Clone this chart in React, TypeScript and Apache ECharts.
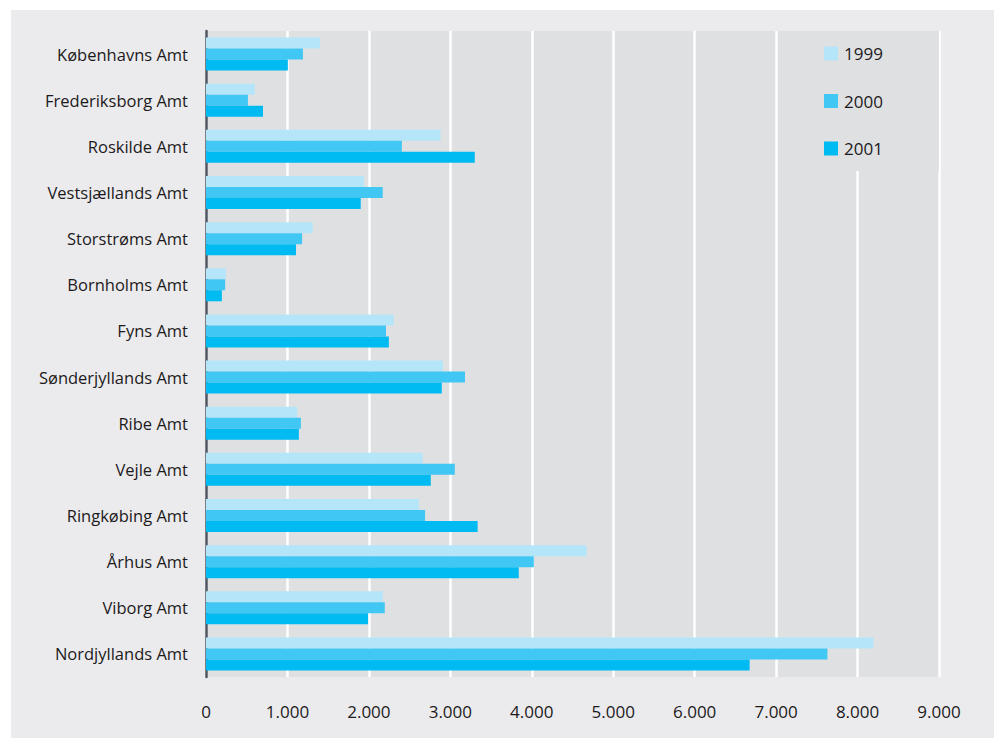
import React, { useEffect, useRef } from "react";
import * as echarts from "echarts";

const categories = [
  "Københavns Amt",
  "Frederiksborg Amt",
  "Roskilde Amt",
  "Vestsjællands Amt",
  "Storstrøms Amt",
  "Bornholms Amt",
  "Fyns Amt",
  "Sønderjyllands Amt",
  "Ribe Amt",
  "Vejle Amt",
  "Ringkøbing Amt",
  "Århus Amt",
  "Viborg Amt",
  "Nordjyllands Amt",
];

const values1999 = [1400, 600, 2880, 1940, 1310, 245, 2305, 2910, 1120, 2660, 2615, 4675, 2170, 8195];
const values2000 = [1190, 515, 2405, 2170, 1180, 235, 2210, 3180, 1165, 3055, 2690, 4025, 2195, 7630];
const values2001 = [1005, 700, 3300, 1900, 1105, 195, 2245, 2895, 1140, 2760, 3335, 3840, 1990, 6675];

const seriesNames = ["1999", "2000", "2001"];
const seriesColors = ["#b5e5f8", "#40c7f4", "#00baf2"];

const FONT = "'Open Sans', sans-serif";
const TEXT = "#1c1a1b";

function fmt(v: number) {
  return String(v).replace(/\B(?=(\d{3})+(?!\d))/g, ".");
}

export default function App() {
  const ref = useRef<HTMLDivElement>(null);
  useEffect(() => {
    if (!ref.current) return;
    const chart = echarts.init(ref.current, null, { renderer: "svg" });
    const data = [values1999, values2000, values2001];
    chart.setOption({
      animation: false,
      backgroundColor: "#ffffff",
      textStyle: { fontFamily: FONT },
      graphic: [
        {
          type: "rect",
          z: -10,
          silent: true,
          shape: { x: 11, y: 10, width: 983, height: 728 },
          style: { fill: "#ebebed" },
        },
      ],
      grid: { left: 206, top: 31, width: 733, height: 646, containLabel: false, show: true, backgroundColor: "#dfe0e2", borderWidth: 0 },
      legend: {
        orient: "vertical",
        left: 800,
        top: 31,
        padding: [14, 56, 14, 24],
        backgroundColor: "#dfe0e2",
        itemWidth: 14,
        itemHeight: 14,
        itemGap: 30.5,
        icon: "rect",
        textStyle: { fontFamily: FONT, fontSize: 17, color: TEXT, padding: [0, 0, 0, 1] },
        data: seriesNames,
      },
      xAxis: {
        type: "value",
        min: 0,
        max: 9000,
        interval: 1000,
        axisLine: { show: false },
        axisTick: { show: false },
        splitLine: { show: true, lineStyle: { color: "#ffffff", width: 2.5 } },
        axisLabel: { formatter: (v: number) => fmt(v), fontFamily: FONT, fontSize: 17, color: TEXT, margin: 26 },
      },
      yAxis: {
        type: "category",
        inverse: true,
        data: categories,
        axisLine: { show: true, lineStyle: { color: "#4f5560", width: 2.5 } },
        axisTick: { show: false },
        splitLine: { show: false },
        axisLabel: { fontFamily: FONT, fontSize: 16.5, color: TEXT, margin: 18 },
      },
      series: seriesNames.map((name, i) => ({
        name,
        type: "bar",
        data: data[i],
        barWidth: 11,
        barGap: "0%",
        itemStyle: { color: seriesColors[i] },
        z: 3,
      })),
    });
    return () => chart.dispose();
  }, []);
  return (
    <div
      ref={ref}
      style={{ position: "fixed", left: 0, top: 0, width: 997, height: 738 }}
    />
  );
}
